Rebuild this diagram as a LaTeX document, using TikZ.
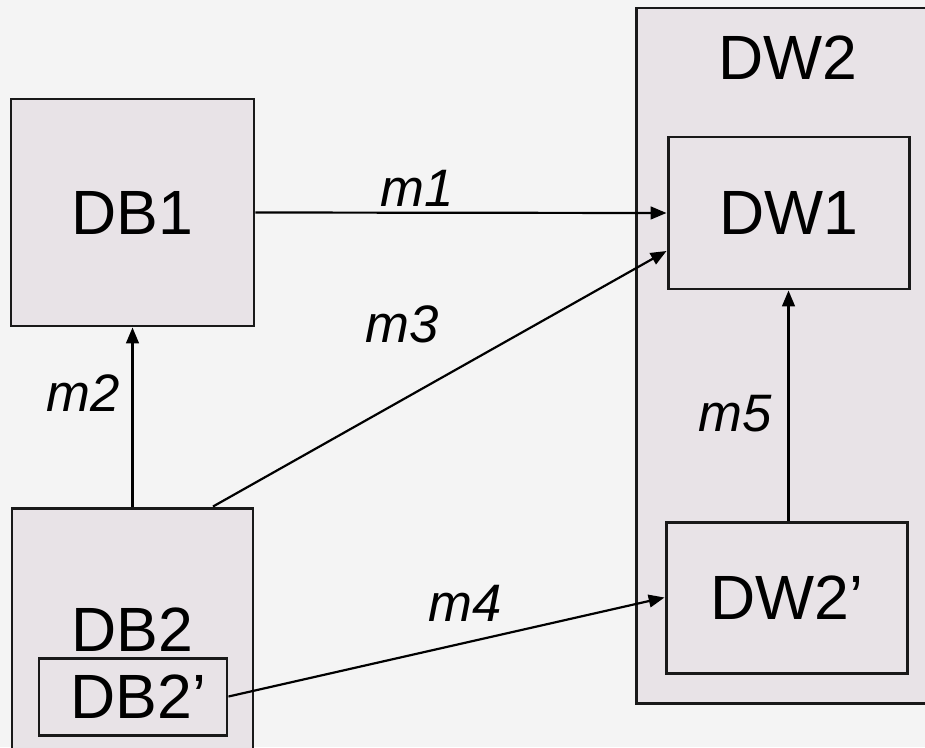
\documentclass[tikz,border=0pt]{standalone}
\usepackage{fontspec}
\setmainfont{Liberation Sans}
\usepackage{tikz}
\usetikzlibrary{calc,arrows.meta}

\definecolor{pagebg}{HTML}{F4F4F4}
\definecolor{boxfill}{HTML}{E8E3E7}

\tikzset{
  store/.style={draw=black!90, line width=1.7pt, fill=boxfill, inner sep=0pt,
    font=\fontsize{35.6}{40}\selectfont},
  flow/.style={line width=1.25pt, -{Triangle[length=9pt,width=7.2pt]}},
  lbl/.style={font=\fontsize{30}{34}\selectfont\itshape, inner sep=0pt}
}

\begin{document}
\begin{tikzpicture}[x=0.02cm,y=-0.02cm]
\useasboundingbox (0,0) rectangle (925,747);
\clip (0,0) rectangle (925,747);
\fill[pagebg] (0,0) rectangle (925,747);

% warehouse side
\node[store, minimum width=304*0.02cm, minimum height=695*0.02cm] (DW2) at (788,355.5) {};
\node[font=\fontsize{35.6}{40}\selectfont] (DW2lbl) at (788,57.5) {DW2};
\node[store, minimum width=241*0.02cm, minimum height=152*0.02cm] (DW1) at (788.5,213) {DW1};
\node[store, minimum width=241*0.02cm, minimum height=151*0.02cm] (DW2p) at (786.5,597.5) {DW2'};

% source side
\node[store, minimum width=243*0.02cm, minimum height=227*0.02cm] (DB1) at (132.5,212.5) {DB1};
\node[store, minimum width=241*0.02cm, minimum height=244*0.02cm] (DB2) at (132.5,630) {DB2};
\node[store, minimum width=188*0.02cm, minimum height=77*0.02cm] (DB2p) at (133,696.5) {\,DB2'};

% mappings
\draw[flow] (DB1.east) -- (DW1.west);
\draw[flow] (DB2.north) -- (DB1.south);
\draw[flow] ($(DB2.north)+(80.5,0)$) -- ($(DW1.west)+(0,38)$);
\draw[flow] (DB2p.east) -- (DW2p.west);
\draw[flow] (DW2p.north -| DW1.south) -- (DW1.south);

\node[lbl] (m1) at (417,188) {m1};
\node[lbl] (m2) at (83,393) {m2};
\node[lbl] (m3) at (402,324) {m3};
\node[lbl] (m4) at (465,603) {m4};
\node[lbl] (m5) at (735,414) {m5};
\end{tikzpicture}
\end{document}
